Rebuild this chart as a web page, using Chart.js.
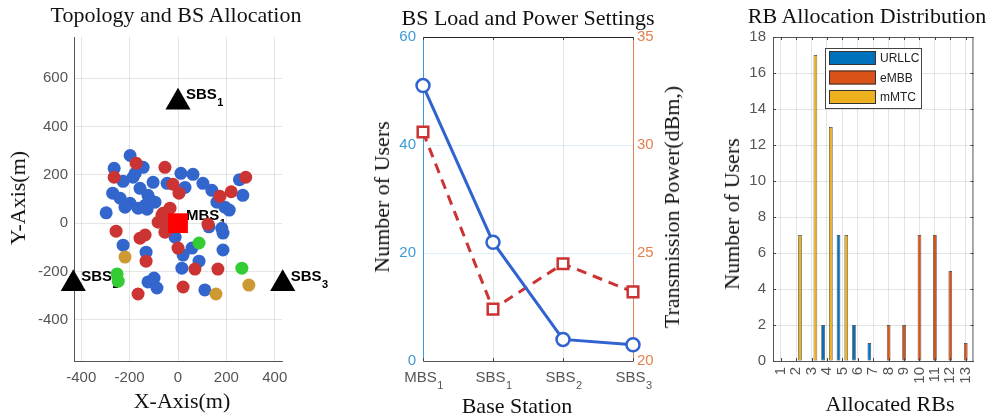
<!DOCTYPE html>
<html><head><meta charset="utf-8">
<script src="https://cdn.jsdelivr.net/npm/chart.js@4/dist/chart.umd.min.js"></script>
<style>
html,body{margin:0;padding:0;background:#fff;}
body{width:990px;height:419px;position:relative;overflow:hidden;font-family:'Liberation Serif','Times New Roman',serif;}
canvas{position:absolute;top:0;}
.t{position:absolute;white-space:nowrap;font-size:22px;line-height:22px;color:#111;}
.h{transform:translateX(-50%);}
.v{transform:translate(-50%,-50%) rotate(-90deg);}
</style></head><body>
<canvas id="c1" width="330" height="419" style="left:0"></canvas>
<canvas id="c2" width="360" height="419" style="left:330px"></canvas>
<canvas id="c3" width="300" height="419" style="left:690px"></canvas>

<div class="t h" style="left:176px;top:4px">Topology and BS Allocation</div>
<div class="t h" style="left:528px;top:7px">BS Load and Power Settings</div>
<div class="t h" style="left:867px;top:5px">RB Allocation Distribution</div>
<div class="t h" style="left:182px;top:390px">X-Axis(m)</div>
<div class="t h" style="left:517px;top:395px">Base Station</div>
<div class="t h" style="left:890px;top:393px">Allocated RBs</div>
<div class="t v" style="left:18px;top:198px">Y-Axis(m)</div>
<div class="t v" style="left:382px;top:197px">Number of Users</div>
<div class="t v" style="left:672px;top:207px">Transmission Power(dBm,)</div>
<div class="t v" style="left:732px;top:214px">Number of Users</div>

<script>
// ---------- Panel 1: topology ----------
const bsNames = ['MBS', 'SBS', 'SBS', 'SBS'];
const bsSubs  = ['1', '1', '2', '3'];
const bsX = [0, 0, -433, 433];
const bsY = [0, 500, -250, -250];

const blueX = [-198,-144,-264,-227,-177,-186,-157,-103,-45,12,62,29,103,140,254,268,-270,-239,-124,-95,-198,-219,-165,-128,-297,161,194,212,181,186,186,128,-12,-227,-132,58,21,87,16,-124,-99,-87,111,-136,-115];
const blueY = [280,231,227,173,206,190,144,169,165,206,202,148,165,136,180,115,124,103,115,87,82,66,62,58,43,87,66,54,-21,-41,-111,-15,-58,-91,-120,-103,-132,-157,-186,-243,-227,-268,-276,74,95];
const redX = [-173,-264,-54,-21,4,173,220,280,-66,-33,-82,-62,-54,-256,-157,-136,-132,0,124,70,165,-165,21,-45];
const redY = [248,190,231,161,124,111,130,190,33,62,4,41,-37,-33,-62,-49,-157,-103,-4,-190,-190,-293,-264,10];
const greenX = [87,264,-252,-247];
const greenY = [-82,-186,-210,-240];
const goldX = [-219,157,293];
const goldY = [-140,-293,-256];

// ---------- Panel 2: load & power ----------
const stationNames = ['MBS', 'SBS', 'SBS', 'SBS'];
const stationSubs  = ['1', '1', '2', '3'];
const usersPerBS = [51, 22, 4, 3];
const powerPerBS = [30.6, 22.4, 24.5, 23.2];

// ---------- Panel 3: RB allocation ----------
const rbLabels = ['1','2','3','4','5','6','7','8','9','10','11','12','13'];
const urllcUsers = [0,0,0,2,7,2,1,0,0,0,0,0,0];
const embbUsers  = [0,0,0,0,0,0,0,2,2,7,7,5,1];
const mmtcUsers  = [0,7,17,13,7,0,0,0,0,0,0,0,0];

const SANS = "'Liberation Sans', Arial, sans-serif";
const TICK = '#555';
const GRID = 'rgba(0,0,0,0.10)';
const zip = (xs, ys) => xs.map((x, i) => ({x, y: ys[i]}));

function drawSubText(ctx, x, y, main, sub, size, subSize, bold, color, align) {
  ctx.save();
  ctx.fillStyle = color;
  ctx.textBaseline = 'alphabetic';
  ctx.textAlign = 'left';
  const f1 = (bold ? 'bold ' : '') + size + 'px ' + SANS;
  const f2 = (bold ? 'bold ' : '') + subSize + 'px ' + SANS;
  ctx.font = f1; const w1 = ctx.measureText(main).width;
  ctx.font = f2; const w2 = ctx.measureText(sub).width;
  let sx = x;
  if (align === 'center') sx = x - (w1 + w2) / 2;
  ctx.font = f1; ctx.fillText(main, sx, y);
  ctx.font = f2; ctx.fillText(sub, sx + w1 + 0.5, y + 7);
  ctx.restore();
}

// Panel 1
const bsLabelPlugin = {
  id: 'bsLabels',
  beforeDatasetsDraw(chart) {
    const ctx = chart.ctx, xs = chart.scales.x, ys = chart.scales.y;
    bsX.forEach((bx, i) => {
      const px = xs.getPixelForValue(bx), py = ys.getPixelForValue(bsY[i]);
      drawSubText(ctx, px + 8, py - 3, bsNames[i], bsSubs[i], 15, 11, true, '#000', 'left');
    });
  }
};

const ptBase = {showLine: false, pointBorderWidth: 0, borderWidth: 0, clip: false, pointRadius: 6.5};
new Chart(document.getElementById('c1'), {
  type: 'scatter',
  data: {datasets: [
    {label: 'SBS', data: zip(bsX.slice(1), bsY.slice(1)), pointStyle: 'triangle', pointRadius: 14.5,
     backgroundColor: '#000', borderColor: '#000', pointBorderWidth: 0, clip: false, order: 0},
    {label: 'MBS', data: zip(bsX.slice(0, 1), bsY.slice(0, 1)), pointStyle: 'rect', pointRadius: 14,
     backgroundColor: '#ff0000', borderColor: '#ff0000', pointBorderWidth: 0, clip: false, order: 1},
    Object.assign({label: 'gold', data: zip(goldX, goldY), backgroundColor: '#cc9933', order: 2}, ptBase),
    Object.assign({label: 'green', data: zip(greenX, greenY), backgroundColor: '#33cc33', order: 3}, ptBase),
    Object.assign({label: 'red', data: zip(redX, redY), backgroundColor: '#cc3333', order: 4}, ptBase),
    Object.assign({label: 'blue', data: zip(blueX, blueY), backgroundColor: '#3366cc', order: 5}, ptBase)
  ]},
  options: {
    responsive: false, animation: false, events: [],
    layout: {padding: {top: 37, left: 0, right: 48, bottom: 0}},
    plugins: {legend: {display: false}, tooltip: {enabled: false}},
    scales: {
      x: {type: 'linear', min: -430, max: 430,
          ticks: {stepSize: 200, includeBounds: false, color: TICK, font: {family: SANS, size: 15}, padding: 8},
          grid: {color: GRID, drawTicks: false}, border: {color: '#555', width: 1},
          afterFit(s) { s.height = 58; }},
      y: {type: 'linear', min: -570, max: 770,
          ticks: {stepSize: 200, includeBounds: false, color: TICK, font: {family: SANS, size: 15}, padding: 6},
          grid: {color: GRID, drawTicks: false}, border: {color: '#555', width: 1},
          afterFit(s) { s.width = 74; }}
    }
  },
  plugins: [bsLabelPlugin]
});

// Panel 2
const LEFTC = '#3d9ad8', RIGHTC = '#e5814f';
const panel2Plugin = {
  id: 'panel2',
  afterDraw(chart) {
    const ctx = chart.ctx, a = chart.chartArea, xs = chart.scales.x;
    ctx.save();
    ctx.strokeStyle = '#222'; ctx.lineWidth = 1;
    ctx.beginPath(); ctx.moveTo(a.left, a.top + 0.5); ctx.lineTo(a.right, a.top + 0.5); ctx.stroke();
    ctx.strokeStyle = '#444';
    stationNames.forEach((n, i) => {
      const px = Math.round(xs.getPixelForTick(i)) + 0.5;
      ctx.beginPath(); ctx.moveTo(px, a.top); ctx.lineTo(px, a.top + 3); ctx.stroke();
      ctx.beginPath(); ctx.moveTo(px, a.bottom); ctx.lineTo(px, a.bottom - 3); ctx.stroke();
      drawSubText(ctx, px, 382, n, stationSubs[i], 15, 11, false, TICK, 'center');
    });
    ctx.restore();
  }
};
new Chart(document.getElementById('c2'), {
  type: 'line',
  data: {
    labels: stationNames.map((n, i) => n + stationSubs[i]),
    datasets: [
      {label: 'Number of Users', data: usersPerBS, yAxisID: 'y', borderColor: '#2f63cf', borderWidth: 3,
       pointStyle: 'circle', pointRadius: 6.5, pointBorderWidth: 2.5, pointBorderColor: '#2f63cf',
       pointBackgroundColor: '#fff', tension: 0, clip: false},
      {label: 'Transmission Power (dBm)', data: powerPerBS, yAxisID: 'y1', borderColor: '#cc3333', borderWidth: 3,
       borderDash: [10, 7], pointStyle: 'rect', pointRadius: 7.5, pointBorderWidth: 2.5, pointBorderColor: '#cc3333',
       pointBackgroundColor: '#fff', tension: 0, clip: false}
    ]
  },
  options: {
    responsive: false, animation: false, events: [],
    layout: {padding: {top: 37, left: 0, right: 0, bottom: 0}},
    plugins: {legend: {display: false}, tooltip: {enabled: false}},
    scales: {
      x: {type: 'category', offset: false, ticks: {display: false},
          grid: {color: GRID, drawTicks: false}, border: {color: '#555'},
          afterFit(s) { s.height = 58; }},
      y: {position: 'left', min: 0, max: 60,
          ticks: {stepSize: 20, color: LEFTC, font: {family: SANS, size: 15}, padding: 7},
          grid: {color: 'rgba(61,154,216,0.16)', drawTicks: false}, border: {color: LEFTC, width: 1},
          afterFit(s) { s.width = 93; }},
      y1: {position: 'right', min: 20, max: 35,
          ticks: {stepSize: 5, color: RIGHTC, font: {family: SANS, size: 15}, padding: 4},
          grid: {drawOnChartArea: false, drawTicks: false}, border: {color: RIGHTC, width: 1},
          afterFit(s) { s.width = 57; }}
    }
  },
  plugins: [panel2Plugin]
});

// Panel 3
const panel3Plugin = {
  id: 'panel3',
  afterDraw(chart) {
    const ctx = chart.ctx, a = chart.chartArea, xs = chart.scales.x, ys = chart.scales.y;
    ctx.save();
    ctx.strokeStyle = '#555'; ctx.lineWidth = 1;
    ctx.beginPath();
    ctx.moveTo(a.left, a.top + 0.5); ctx.lineTo(a.right, a.top + 0.5);
    ctx.moveTo(a.right - 0.5, a.top); ctx.lineTo(a.right - 0.5, a.bottom);
    ctx.stroke();
    ctx.strokeStyle = '#444';
    rbLabels.forEach((l, i) => {
      const px = Math.round(xs.getPixelForTick(i)) + 0.5;
      ctx.beginPath(); ctx.moveTo(px, a.top); ctx.lineTo(px, a.top + 3);
      ctx.moveTo(px, a.bottom); ctx.lineTo(px, a.bottom - 3); ctx.stroke();
    });
    ys.ticks.forEach(t => {
      const py = Math.round(ys.getPixelForValue(t.value)) + 0.5;
      ctx.beginPath(); ctx.moveTo(a.left, py); ctx.lineTo(a.left + 3, py);
      ctx.moveTo(a.right, py); ctx.lineTo(a.right - 3, py); ctx.stroke();
    });
    // legend
    const lx = 135, ly = 48, lw = 96, lh = 60;
    ctx.fillStyle = '#fff'; ctx.fillRect(lx, ly, lw, lh);
    ctx.strokeStyle = '#444'; ctx.strokeRect(lx + 0.5, ly + 0.5, lw, lh);
    chart.data.datasets.forEach((ds, i) => {
      const cy = ly + 10 + i * 19.5;
      ctx.fillStyle = ds.backgroundColor;
      ctx.fillRect(lx + 4, cy - 7, 47, 14);
      ctx.strokeStyle = '#333';
      ctx.strokeRect(lx + 4.5, cy - 6.5, 46, 13);
      ctx.fillStyle = '#222';
      ctx.font = "12px 'Liberation Sans Narrow', 'Liberation Sans', Arial, sans-serif";
      ctx.textBaseline = 'middle'; ctx.textAlign = 'left';
      ctx.fillText(ds.label, lx + 55, cy + 1);
    });
    ctx.restore();
  }
};
const barBase = {borderColor: '#333', borderWidth: 0.7, borderSkipped: false, categoryPercentage: 0.75, barPercentage: 0.95};
new Chart(document.getElementById('c3'), {
  type: 'bar',
  data: {
    labels: rbLabels,
    datasets: [
      Object.assign({label: 'URLLC', data: urllcUsers, backgroundColor: '#0072bd'}, barBase),
      Object.assign({label: 'eMBB', data: embbUsers, backgroundColor: '#d95319'}, barBase),
      Object.assign({label: 'mMTC', data: mmtcUsers, backgroundColor: '#edb120'}, barBase)
    ]
  },
  options: {
    responsive: false, animation: false, events: [],
    layout: {padding: {top: 37, left: 0, right: 7, bottom: 0}},
    plugins: {legend: {display: false}, tooltip: {enabled: false}},
    scales: {
      x: {type: 'category', offset: true,
          ticks: {autoSkip: false, minRotation: 90, maxRotation: 90, color: TICK, font: {family: SANS, size: 15}, padding: 6},
          grid: {color: GRID, drawTicks: false, offset: false}, border: {color: '#555'},
          afterFit(s) { s.height = 58; }},
      y: {min: 0, max: 18,
          ticks: {stepSize: 2, color: TICK, font: {family: SANS, size: 15}, padding: 7},
          grid: {color: GRID, drawTicks: false}, border: {color: '#555'},
          afterFit(s) { s.width = 83; }}
    }
  },
  plugins: [panel3Plugin]
});
</script>
</body></html>
